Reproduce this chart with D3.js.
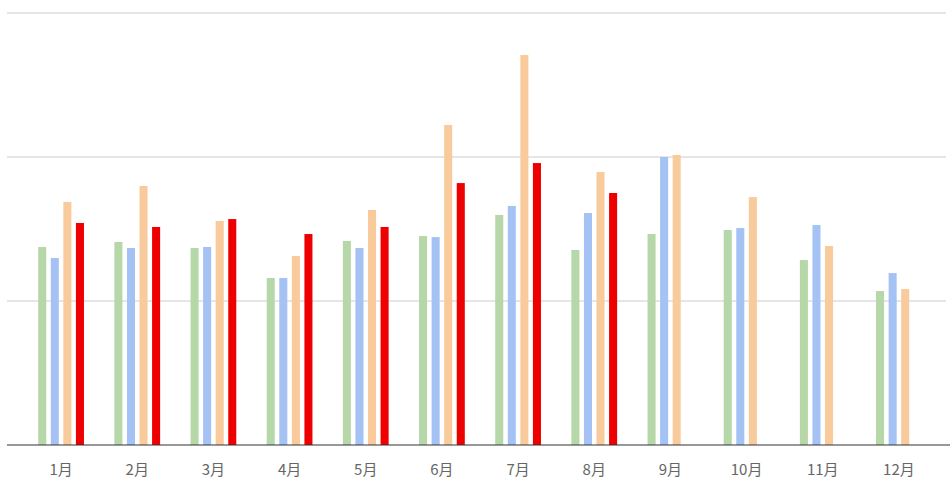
<!DOCTYPE html>
<html>
<head>
<meta charset="utf-8">
<script src="https://cdn.jsdelivr.net/npm/d3@7"></script>
<style>
  html, body { margin: 0; padding: 0; background: #fff; }
  svg { display: block; }
</style>
</head>
<body>
<svg id="chart" width="950" height="479"></svg>
<script>
const months = ["1月","2月","3月","4月","5月","6月","7月","8月","9月","10月","11月","12月"];
const seriesNames = ["s1","s2","s3","s4"];
const greenValues  = [137.5, 141, 136.8, 116, 141.7, 145.1, 159.7, 135.4, 146.5, 149.3, 128.5, 106.9];
const blueValues   = [129.9, 136.8, 137.5, 116, 136.8, 144.4, 166, 161.1, 200, 150.7, 152.8, 119.4];
const orangeValues = [168.8, 179.9, 155.6, 131.3, 163.2, 222.2, 270.8, 189.6, 201.4, 172.2, 138.2, 108.3];
const redValues    = [154.2, 151.4, 156.9, 146.5, 151.4, 181.9, 195.8, 175, null, null, null, null];
const gridTicks = [0, 100, 200, 300];

const colors = { s1: "#b6d7a8", s2: "#a4c2f4", s3: "#f9cb9c", s4: "#ee0000" };
const seriesValues = { s1: greenValues, s2: blueValues, s3: orangeValues, s4: redValues };

const svg = d3.select("#chart");

const x0 = d3.scaleBand().domain(months).range([23, 937]).paddingInner(0.34).paddingOuter(0.17);
const x1 = d3.scaleBand().domain(seriesNames).range([0, x0.bandwidth()]).paddingInner(0.36).paddingOuter(0.18);
const y = d3.scaleLinear().domain([0, 300]).range([445, 13]);

// gridlines
svg.append("g").selectAll("line")
  .data(gridTicks.filter(d => d > 0))
  .join("line")
  .attr("x1", 7).attr("x2", 946)
  .attr("y1", d => y(d)).attr("y2", d => y(d))
  .attr("stroke", "#cccccc").attr("stroke-width", 1);

// bars
const rows = [];
months.forEach((m, i) => {
  seriesNames.forEach(s => {
    const v = seriesValues[s][i];
    if (v != null) rows.push({ month: m, series: s, value: v });
  });
});

svg.append("g").selectAll("rect")
  .data(rows)
  .join("rect")
  .attr("x", d => x0(d.month) + x1(d.series))
  .attr("width", x1.bandwidth())
  .attr("y", d => y(d.value))
  .attr("height", d => y(0) - y(d.value))
  .attr("fill", d => colors[d.series]);

// baseline
svg.append("line")
  .attr("x1", 7).attr("x2", 950)
  .attr("y1", y(0)).attr("y2", y(0))
  .attr("stroke", "#333333").attr("stroke-width", 1.2);

// x axis labels
const xAxis = d3.axisBottom(x0).tickSize(0).tickPadding(0);
const gx = svg.append("g").attr("transform", `translate(0, ${y(0)})`).call(xAxis);
gx.select(".domain").remove();
gx.selectAll("text")
  .attr("dy", "0")
  .attr("y", 30)
  .attr("fill", "#666666")
  .style("font-family", "'Noto Sans CJK SC', 'Noto Sans', sans-serif")
  .style("font-size", "15px");
</script>
</body>
</html>
